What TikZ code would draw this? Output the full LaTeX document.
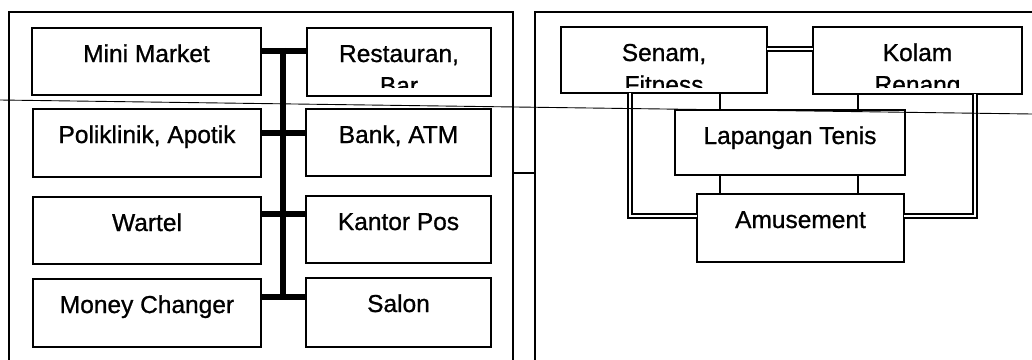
\documentclass[tikz,border=0pt]{standalone}
\usepackage{fontspec}
\setmainfont{Liberation Sans}
\newfontfamily\scanfont[FakeBold=0.9]{Liberation Sans}
\usetikzlibrary{fit,calc}
\tikzset{
  box/.style={draw, line width=2pt, inner sep=0pt, outer sep=0pt},
  lbl/.style={anchor=base, inner sep=0pt, font=\scanfont\fontsize{24.5}{30}\selectfont},
  frameline/.style={line width=2pt},
  bus/.style={line width=6.5pt, line cap=butt},
  thinlink/.style={line width=1.5pt},
  dbl/.style={double, line width=1.7pt, double distance=2.2pt},
}
\newcommand\mybox[6]{%
  \node[box, fit={(#2,#3) (#4,#5)}] (#1) {};
  \node[lbl] (#1t) at ($(#1.north)+(0,34)$) {#6};}
\newcommand\myboxtwo[7]{%
  \node[box, fit={(#2,#3) (#4,#5)}] (#1) {};
  \node[lbl] (#1t) at ($(#1.north)+(0,34)$) {#6};
  \begin{scope}
    \clip (#2,#3) rectangle (#4,87);
    \node[lbl] (#1u) at ($(#1.north)+(0,66)$) {#7};
  \end{scope}}
\begin{document}
\begin{tikzpicture}[x=1pt,y=-1pt]
\useasboundingbox[fill=white] (0,0) rectangle (1032,359);
% frames
\coordinate (lfBL) at (9,362);
\coordinate (lfTL) at (9,12);
\coordinate (lfTR) at (513,12);
\coordinate (lfBR) at (513,362);
\coordinate (rfBL) at (535,362);
\coordinate (rfTL) at (535,12);
\coordinate (rfTR) at (1040,12);
\draw[frameline] (lfBL) -- (lfTL) -- (lfTR) -- (lfBR);
\draw[frameline] (rfBL) -- (rfTL) -- (rfTR);
\coordinate (lfR) at (513,173);
\coordinate (rfL) at (535,173);
\draw[thinlink] (lfR) -- (rfL);
% left boxes
\mybox{mm}{32}{28}{261}{95}{Mini Market}
\myboxtwo{rb}{307}{28}{491}{96}{Restauran,}{Bar}
\mybox{pa}{33}{109}{261}{177}{Poliklinik, Apotik}
\mybox{ba}{306}{109}{491}{176}{Bank, ATM}
\mybox{wa}{33}{197}{261}{264}{Wartel}
\mybox{kp}{306}{196}{491}{263}{Kantor Pos}
\mybox{mc}{33}{279}{261}{347}{Money Changer}
\mybox{sa}{306}{278}{491}{347}{Salon}
% bus
\coordinate (busT) at (283,47.75);
\coordinate (busB) at (283,300.25);
\draw[bus] (busT) -- (busB);
\draw[bus] (mm.east |- {(0,51)}) -- (rb.west |- {(0,51)});
\draw[bus] (pa.east |- {(0,133)}) -- (ba.west |- {(0,133)});
\draw[bus] (wa.east |- {(0,214)}) -- (kp.west |- {(0,214)});
\draw[bus] (mc.east |- {(0,297)}) -- (sa.west |- {(0,297)});
% right boxes
\myboxtwo{sf}{561}{27}{767}{93}{Senam,}{Fitness}
\myboxtwo{kr}{813}{27}{1022}{94}{Kolam}{Renang}
\mybox{lt}{675}{110}{905}{175}{Lapangan Tenis}
\mybox{am}{697}{194}{904}{262}{Amusement}
% links
\draw[dbl] (sf.east |- {(0,49)}) -- (kr.west |- {(0,49)});
\draw[thinlink] (sf.south -| {(720,0)}) -- (lt.north -| {(720,0)});
\draw[thinlink] (kr.south -| {(858,0)}) -- (lt.north -| {(858,0)});
\draw[thinlink] (lt.south -| {(720,0)}) -- (am.north -| {(720,0)});
\draw[thinlink] (lt.south -| {(858,0)}) -- (am.north -| {(858,0)});
\draw[dbl] (sf.south -| {(630,0)}) -- (630,216) -- (am.west |- {(0,216)});
\draw[dbl] (kr.south -| {(975,0)}) -- (975,216) -- (am.east |- {(0,216)});
% stray scan line
\coordinate (scanL) at (0,100);
\coordinate (scanR) at (1032,114);
\draw[line width=0.9pt] (scanL) -- (scanR);
\end{tikzpicture}
\end{document}
